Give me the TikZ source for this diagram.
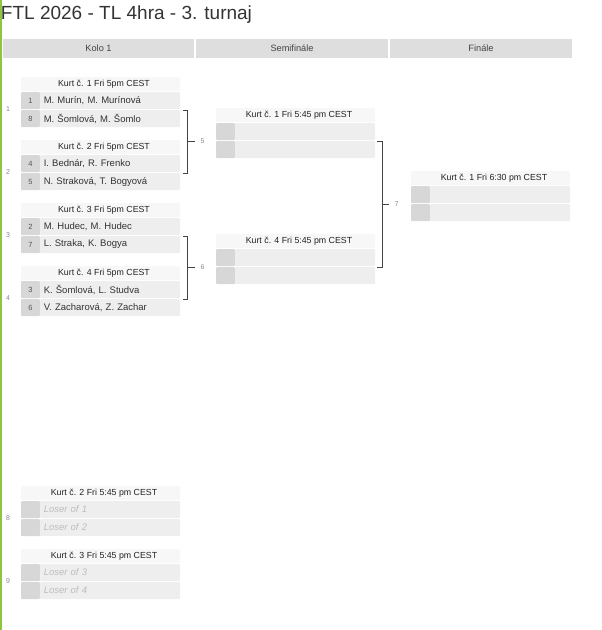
\documentclass[tikz,border=0pt]{standalone}
\usepackage{fontspec}
\setmainfont{Liberation Sans}
\usetikzlibrary{positioning}
\definecolor{greenbar}{HTML}{8CC63F}
\definecolor{titletext}{HTML}{333333}
\definecolor{barfill}{HTML}{DEDEDE}
\definecolor{coltext}{HTML}{444444}
\definecolor{headfill}{HTML}{F7F7F7}
\definecolor{headtext}{HTML}{222222}
\definecolor{seedfill}{HTML}{D7D7D7}
\definecolor{seedtext}{HTML}{555555}
\definecolor{rowfill}{HTML}{EEEEEE}
\definecolor{teamtext}{HTML}{333333}
\definecolor{losertext}{HTML}{BDBDBD}
\definecolor{nrtext}{HTML}{888888}
\definecolor{bracketcol}{HTML}{444444}

\begin{document}
\begin{tikzpicture}[x=1pt,y=-1pt,thin]
\tikzstyle{every node}=[inner sep=0pt, outer sep=0pt]
\tikzstyle{colhead}=[fill=barfill, minimum height=19pt, text=coltext, font=\fontsize{9.2}{11}\selectfont]
\tikzstyle{head}=[fill=headfill, minimum width=159pt, minimum height=14pt, text=headtext, font=\fontsize{8.8}{10}\selectfont, execute at begin node=\hspace*{7pt}, rounded corners=1pt]
\tikzstyle{seed}=[fill=seedfill, minimum width=19pt, minimum height=17pt, text=seedtext, font=\fontsize{7.5}{8}\selectfont, rounded corners=1pt]
\tikzstyle{team}=[fill=rowfill, minimum height=17pt, text width=132.5pt, inner xsep=3.75pt, align=left, text=teamtext, font=\fontsize{9.5}{11}\selectfont, rounded corners=1pt]
\tikzstyle{loser}=[team, text=losertext, font=\fontsize{9.5}{11}\selectfont\itshape]
\tikzstyle{nr}=[text=nrtext, font=\fontsize{7}{8}\selectfont]
\tikzstyle{bracket}=[draw=bracketcol, line width=0.9pt]

\useasboundingbox (0,0) rectangle (602,630);
\fill[greenbar] (0,0) rectangle (2,630);

\node[anchor=base west, text=titletext, font=\fontsize{19}{22}\selectfont] (title) at (1,19.5) {FTL 2026 - TL 4hra - 3. turnaj};

\node[colhead, minimum width=191pt] (c1) at (98.5,48.5) {Kolo 1};
\node[colhead, minimum width=192pt] (c2) at (292,48.5) {Semifinále};
\node[colhead, minimum width=182pt] (c3) at (481,48.5) {Finále};

% Kolo 1
\node[head] (m1h) at (100.5,84) {Kurt č. 1 Fri 5pm CEST};
\node[seed] (m1s1) [below right=1pt and 0pt of m1h.south west] {1};
\node[team] (m1t1) [right=0pt of m1s1] {M. Murín, M. Murínová};
\node[seed] (m1s2) [below=1pt of m1s1] {8};
\node[team] (m1t2) [right=0pt of m1s2] {M. Šomlová, M. Šomlo};
\node[nr] (n1) [left=11pt of m1s1.south west] {1};

\node[head] (m2h) at (100.5,147) {Kurt č. 2 Fri 5pm CEST};
\node[seed] (m2s1) [below right=1pt and 0pt of m2h.south west] {4};
\node[team] (m2t1) [right=0pt of m2s1] {I. Bednár, R. Frenko};
\node[seed] (m2s2) [below=1pt of m2s1] {5};
\node[team] (m2t2) [right=0pt of m2s2] {N. Straková, T. Bogyová};
\node[nr] (n2) [left=11pt of m2s1.south west] {2};

\node[head] (m3h) at (100.5,210) {Kurt č. 3 Fri 5pm CEST};
\node[seed] (m3s1) [below right=1pt and 0pt of m3h.south west] {2};
\node[team] (m3t1) [right=0pt of m3s1] {M. Hudec, M. Hudec};
\node[seed] (m3s2) [below=1pt of m3s1] {7};
\node[team] (m3t2) [right=0pt of m3s2] {L. Straka, K. Bogya};
\node[nr] (n3) [left=11pt of m3s1.south west] {3};

\node[head] (m4h) at (100.5,273) {Kurt č. 4 Fri 5pm CEST};
\node[seed] (m4s1) [below right=1pt and 0pt of m4h.south west] {3};
\node[team] (m4t1) [right=0pt of m4s1] {K. Šomlová, L. Studva};
\node[seed] (m4s2) [below=1pt of m4s1] {6};
\node[team] (m4t2) [right=0pt of m4s2] {V. Zacharová, Z. Zachar};
\node[nr] (n4) [left=11pt of m4s1.south west] {4};

% Semifinale
\node[head] (m5h) at (295.5,115) {Kurt č. 1 Fri 5:45 pm CEST};
\node[seed] (m5s1) [below right=1pt and 0pt of m5h.south west] {};
\node[team] (m5t1) [right=0pt of m5s1] {};
\node[seed] (m5s2) [below=1pt of m5s1] {};
\node[team] (m5t2) [right=0pt of m5s2] {};

\node[head] (m6h) at (295.5,241) {Kurt č. 4 Fri 5:45 pm CEST};
\node[seed] (m6s1) [below right=1pt and 0pt of m6h.south west] {};
\node[team] (m6t1) [right=0pt of m6s1] {};
\node[seed] (m6s2) [below=1pt of m6s1] {};
\node[team] (m6t2) [right=0pt of m6s2] {};

% Finale
\node[head] (m7h) at (490.5,178) {Kurt č. 1 Fri 6:30 pm CEST};
\node[seed] (m7s1) [below right=1pt and 0pt of m7h.south west] {};
\node[team] (m7t1) [right=0pt of m7s1] {};
\node[seed] (m7s2) [below=1pt of m7s1] {};
\node[team] (m7t2) [right=0pt of m7s2] {};

% o 3. miesto
\node[head] (m8h) at (100.5,493) {Kurt č. 2 Fri 5:45 pm CEST};
\node[seed] (m8s1) [below right=1pt and 0pt of m8h.south west] {};
\node[loser] (m8t1) [right=0pt of m8s1] {Loser of 1};
\node[seed] (m8s2) [below=1pt of m8s1] {};
\node[loser] (m8t2) [right=0pt of m8s2] {Loser of 2};
\node[nr] (n8) [left=11pt of m8s1.south west] {8};

\node[head] (m9h) at (100.5,556) {Kurt č. 3 Fri 5:45 pm CEST};
\node[seed] (m9s1) [below right=1pt and 0pt of m9h.south west] {};
\node[loser] (m9t1) [right=0pt of m9s1] {Loser of 3};
\node[seed] (m9s2) [below=1pt of m9s1] {};
\node[loser] (m9t2) [right=0pt of m9s2] {Loser of 4};
\node[nr] (n9) [left=11pt of m9s1.south west] {9};

% brackets
\draw[bracket] ([xshift=3pt]m1t2.north east) -- ([xshift=7.5pt]m1t2.north east) |- ([xshift=3pt]m2t2.north east);
\draw[bracket] ([xshift=7.5pt]m1t2.north east |- m5t2.north east) -- ++(7,0) node[nr, right=6pt] (n5) {5};
\draw[bracket] ([xshift=3pt]m3t2.north east) -- ([xshift=7.5pt]m3t2.north east) |- ([xshift=3pt]m4t2.north east);
\draw[bracket] ([xshift=7.5pt]m3t2.north east |- m6t2.north east) -- ++(7,0) node[nr, right=6pt] (n6) {6};
\draw[bracket] ([xshift=2pt]m5t2.north east) -- ([xshift=7pt]m5t2.north east) |- ([xshift=2pt]m6t2.north east);
\draw[bracket] ([xshift=7pt]m5t2.north east |- m7t2.north east) -- ++(6.5,0) node[nr, right=6pt] (n7) {7};
\end{tikzpicture}
\end{document}
